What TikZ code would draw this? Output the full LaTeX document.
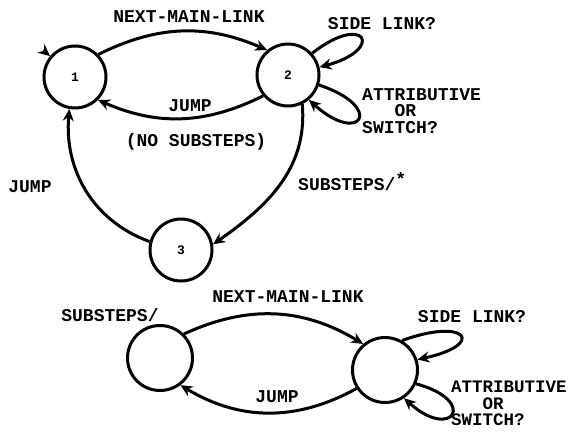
\documentclass[tikz,border=0pt]{standalone}
\usepackage{fontspec}
\setmonofont{Liberation Mono}
\usetikzlibrary{arrows.meta,calc}
\begin{document}
\begin{tikzpicture}[x=1pt,y=1pt,
  state/.style={circle,draw,line width=3pt,minimum size=62pt,inner sep=0pt,
    font=\ttfamily\bfseries\fontsize{13}{13}\selectfont},
  bigstate/.style={state,minimum size=65pt},
  lbl/.style={font=\ttfamily\bfseries\fontsize{18}{16.5}\selectfont,inner sep=0pt},
  edge/.style={line width=3pt,-{Stealth[length=12pt,width=11pt]}},
]
\useasboundingbox (0,0) rectangle (569,434);

% upper machine
\node[state] (n1) at (75,357) {1};
\node[state] (n2) at (288,359) {2};
\node[state] (n3) at (181,184) {3};

\coordinate (s1) at ($(n1.140)+(140:9)$);
\draw[edge] (s1) -- (n1.140);

\draw[edge] (n1.44) to[bend left=25] (n2.130);
\draw[edge] (n2.-140) to[bend left=25] (n1.-45);
\draw[edge] (n2.-64) to[out=-85,in=35] (n3.10);
\draw[edge] (n3.165) to[out=160,in=-95] (n1.-100);
\draw[edge] (n2.42) to[out=38,in=15,distance=68pt] (n2.14);
\draw[edge] (n2.-18) to[out=-18,in=-42,distance=70pt] (n2.-50);

\node[lbl] (t1) at (189,417) {NEXT-MAIN-LINK};
\node[lbl] (t2) at (190,328) {JUMP};
\node[lbl] (t3) at (196,292) {(NO SUBSTEPS)};
\node[lbl] (t4) at (30,247) {JUMP};
\node[lbl] (t5) at (382,410) {SIDE LINK?};
\node[lbl,align=left,anchor=north west] (t6) at (362,346) {ATTRIBUTIVE\\\phantom{ATT}OR\\SWITCH?};
\node[lbl,anchor=west] (t7) at (298,252) {SUBSTEPS/\raisebox{5pt}{*}};

% lower machine
\node[bigstate] (nL) at (160,76) {};
\node[bigstate] (nR) at (385,64) {};

\draw[edge] (nL.45) to[bend left=28] (nR.130);
\draw[edge] (nR.-147) to[bend left=30] (nL.-53);
\draw[edge] (nR.60) to[out=20,in=12,distance=70pt] (nR.18);
\draw[edge] (nR.-24) to[out=-15,in=-42,distance=65pt] (nR.-56);

\node[lbl] (b1) at (110,119) {SUBSTEPS/};
\node[lbl] (b2) at (288,137) {NEXT-MAIN-LINK};
\node[lbl] (b3) at (277,37) {JUMP};
\node[lbl] (b4) at (472,117) {SIDE LINK?};
\node[lbl,align=left,anchor=north west,font=\ttfamily\bfseries\fontsize{17.5}{16.5}\selectfont] (b5) at (451,53) {ATTRIBUTIVE\\\phantom{ATT}OR\\SWITCH?};
\end{tikzpicture}
\end{document}
